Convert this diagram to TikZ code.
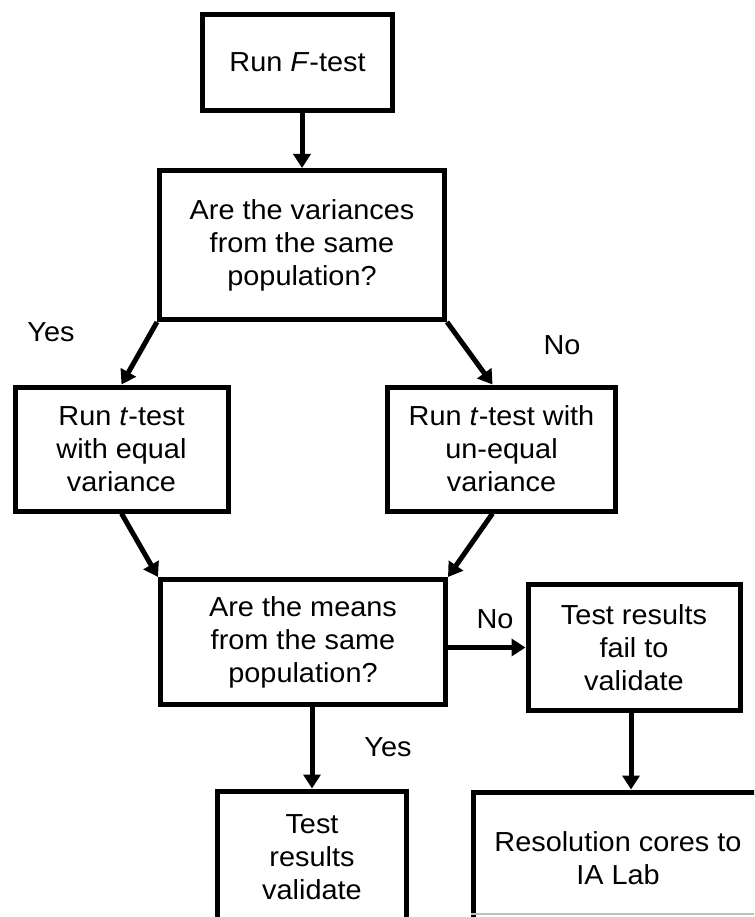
\documentclass[tikz,border=0pt]{standalone}
\usepackage{fontspec}
\setmainfont{Liberation Sans}[FakeStretch=1.05]
\usetikzlibrary{arrows.meta,calc}
\begin{document}
\begin{tikzpicture}[x=1pt,y=-1pt,
  box/.style={draw=black,line width=5pt,fill=white,align=center,inner sep=0pt,
    font=\fontsize{27.5}{33}\selectfont},
  lbl/.style={font=\fontsize{27.5}{33}\selectfont,inner sep=0pt},
  arr/.style={line width=5pt,-{Triangle[length=14pt,width=17pt]}}]
\useasboundingbox (0,0) rectangle (754,917);
\clip (0,0) rectangle (754,917);
\fill[white] (0,0) rectangle (754,917);
\node[box,minimum width=190pt,minimum height=96pt] (F) at (297.5,62.5) {Run \textit{F}-test};
\node[box,minimum width=285pt,minimum height=149pt] (V) at (302,245) {Are the variances\\from the same\\population?};
\node[box,minimum width=213pt,minimum height=124pt] (L) at (121.5,449) {Run \textit{t}-test\\with equal\\variance};
\node[box,minimum width=228pt,minimum height=124pt] (R) at (501.5,449) {Run \textit{t}-test with\\un-equal\\variance};
\node[box,minimum width=285pt,minimum height=125pt] (M) at (303,642) {Are the means\\from the same\\population?};
\node[box,minimum width=212pt,minimum height=126pt] (X) at (634,647.5) {Test results\\fail to\\validate};
\node[box,minimum width=189pt,minimum height=132pt] (T) at (312,857) {Test\\results\\validate};
\node[box,minimum width=289pt,minimum height=132pt] (Z) at (618,858) {Resolution cores to\\IA Lab};
\draw[white,line width=8pt] (Z.west |- 0,922) -- (760,922);
\draw[gray!50,line width=1.5pt] (Z.west |- 0,914) -- (754,914);
\coordinate (xs) at ($(X.south)+(-3,0)$);
\coordinate (zn) at (xs |- Z.north);
\coordinate (rn) at ($(R.north)+(-9,0)$);
\coordinate (rs) at ($(R.south)+(-9,0)$);
\draw[arr] (V.north |- F.south) -- (V.north);
\draw[arr] (V.south west) -- (L.north);
\draw[arr] (V.south east) -- (rn);
\draw[arr] (L.south) -- (M.north west);
\draw[arr] (rs) -- (M.north east);
\draw[arr] (M.east |- X.west) -- (X.west);
\draw[arr] (T.north |- M.south) -- (T.north);
\draw[arr] (xs) -- (zn);
\node[lbl] (y1) at (51,332) {Yes};
\node[lbl] (n1) at (562,345) {No};
\node[lbl] (n2) at (495,619) {No};
\node[lbl] (y2) at (388,747) {Yes};
\end{tikzpicture}
\end{document}
